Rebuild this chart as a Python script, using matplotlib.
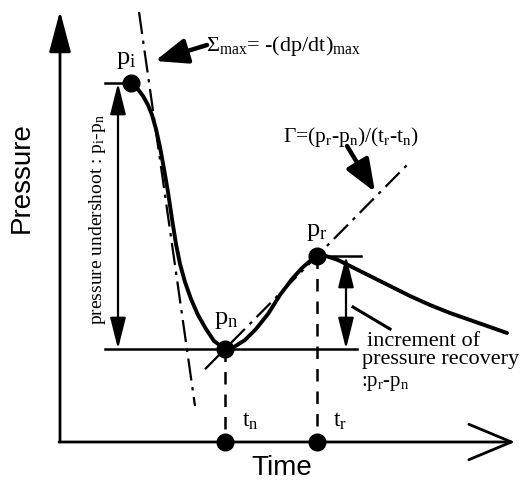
import matplotlib
matplotlib.use("Agg")
import matplotlib.pyplot as plt
from matplotlib.patches import FancyArrowPatch

plt.rcParams['mathtext.fontset'] = 'custom'
plt.rcParams['mathtext.rm'] = 'Liberation Serif'
plt.rcParams['mathtext.it'] = 'Liberation Serif'

H = 489  # figure height in px; pressure = H - pixel row

# ---- data (schematic pressure trace) ----
time_curve = [131, 137, 143, 148, 152, 156, 160, 164, 168, 172, 176, 180, 185, 191, 198, 206,
              214, 225, 234, 245, 256, 268, 280, 292, 302, 310, 317, 326, 338, 352, 370, 390,
              410, 430, 450, 470, 490, 507]
row_curve = [84, 89, 97, 106, 116, 130, 148, 170, 193, 220, 245, 265, 283, 300, 316, 330,
             342, 350, 348, 341, 330, 315, 296, 280, 269, 262, 257, 257, 261, 268, 277, 287,
             297, 306, 314, 321, 328, 334]
pressure_curve = [H - r for r in row_curve]

t_i, p_i = 131, H - 84
t_n, p_n = 225, H - 350
t_r, p_r = 317, H - 257

axis_origin_t, axis_origin_p = 60, H - 443
axis_end_t, axis_end_p = 515, H - 12

sigma_line_t = [139, 195]
sigma_line_p = [H - 13, H - 407]
gamma_span_t = [205, 410]

fig = plt.figure(figsize=(5.23, 4.89), dpi=100)
ax = fig.add_axes([0, 0, 1, 1])
ax.set_xlim(0, 523)
ax.set_ylim(0, H)
ax.axis('off')

serif = 'Liberation Serif'
sans = 'Liberation Sans'

# axes with arrows
ax.annotate('', xy=(axis_origin_t, axis_end_p), xytext=(axis_origin_t, axis_origin_p),
            arrowprops=dict(arrowstyle='-|>,head_length=1.7,head_width=0.45', lw=2, color='black',
                            shrinkA=0, shrinkB=0, mutation_scale=15))
ax.annotate('', xy=(axis_end_t, axis_origin_p), xytext=(axis_origin_t - 1, axis_origin_p),
            arrowprops=dict(arrowstyle='->,head_length=1.8,head_width=0.75', lw=2, color='black',
                            shrinkA=0, shrinkB=0, mutation_scale=17))

# axis labels
ax.text(22, H - 178, 'Pressure', rotation=90, ha='center', va='center', fontsize=20, family=sans)
ax.text(282, H - 468, 'Time', ha='center', va='center', fontsize=20, family=sans)

# tangent (Sigma) line
ax.plot(sigma_line_t, sigma_line_p, color='black', lw=1.6, linestyle=(0, (10, 3, 1.5, 3)))

# Gamma line through p_n and p_r
slope = (p_r - p_n) / (t_r - t_n)
gamma_p = [p_n + slope * (t - t_n) for t in gamma_span_t]
ax.plot(gamma_span_t, gamma_p, color='black', lw=1.6, linestyle=(0, (9, 3, 1.5, 3)))

# reference horizontal lines
ax.plot([105, t_i], [p_i, p_i], color='black', lw=1.8)
ax.plot([105, 357], [p_n, p_n], color='black', lw=1.8)
ax.plot([t_r, 361], [p_r, p_r], color='black', lw=1.8)

# dashed verticals
ax.plot([t_n, t_n], [p_n, axis_origin_p], color='black', lw=1.8, linestyle=(0, (5, 4)))
ax.plot([t_r, t_r], [p_r, axis_origin_p], color='black', lw=1.8, linestyle=(0, (5, 4)))

# main curve
ax.plot(time_curve, pressure_curve, color='black', lw=2.8, solid_capstyle='round')

# points
ax.plot([t_i, t_n, t_r, t_n, t_r], [p_i, p_n, p_r, axis_origin_p, axis_origin_p], 'o',
        color='black', ms=12)

# double arrows
for x, y0, y1 in [(118, p_i, p_n), (346, p_r, p_n)]:
    arr = FancyArrowPatch((x, y0), (x, y1), arrowstyle='<|-|>,head_length=1.6,head_width=0.4',
                          mutation_scale=12, lw=1.6, color='black', shrinkA=0, shrinkB=0)
    ax.add_patch(arr)

# pointer arrows
ax.annotate('', xy=(155, H - 62), xytext=(207, H - 46),
            arrowprops=dict(arrowstyle='-|>,head_length=1.4,head_width=0.55', lw=3.2, color='black',
                            shrinkA=0, shrinkB=0, mutation_scale=14))
ax.annotate('', xy=(375, H - 193), xytext=(347, H - 147),
            arrowprops=dict(arrowstyle='-|>,head_length=1.4,head_width=0.55', lw=3.2, color='black',
                            shrinkA=0, shrinkB=0, mutation_scale=14))
ax.plot([353, 390], [H - 308, H - 330], color='black', lw=2.2)

# labels
ax.text(126, H - 60, r'p$_{\rm i}$', ha='center', va='center', fontsize=19, family=serif)
ax.text(226, H - 320, r'p$_{\rm n}$', ha='center', va='center', fontsize=19, family=serif)
ax.text(317, H - 232, r'p$_{\rm r}$', ha='center', va='center', fontsize=19, family=serif)
ax.text(250, H - 421, r't$_{\rm n}$', ha='center', va='center', fontsize=17, family=serif)
ax.text(340, H - 421, r't$_{\rm r}$', ha='center', va='center', fontsize=17, family=serif)

ax.text(206, H - 46, r'$\Sigma_{\rm max}$= -(dp/dt)$_{\rm max}$', ha='left', va='center',
        fontsize=16, family=serif)
ax.text(283, H - 137, r'$\Gamma$=(p$_{\rm r}$-p$_{\rm n}$)/(t$_{\rm r}$-t$_{\rm n}$)', ha='left',
        va='center', fontsize=15.5, family=serif)

ax.text(97, H - 220, r'pressure undershoot : p$_{\rm i}$-p$_{\rm n}$', rotation=90, ha='center',
        va='center', fontsize=14, family=serif)

ax.text(367, H - 342, 'increment of', ha='left', va='center', fontsize=16, family=serif)
ax.text(362, H - 360, 'pressure recovery', ha='left', va='center', fontsize=16, family=serif)
ax.text(361, H - 384, r':p$_{\rm r}$-p$_{\rm n}$', ha='left', va='center', fontsize=15, family=serif)

fig.savefig('out.png', dpi=100, facecolor='white')
